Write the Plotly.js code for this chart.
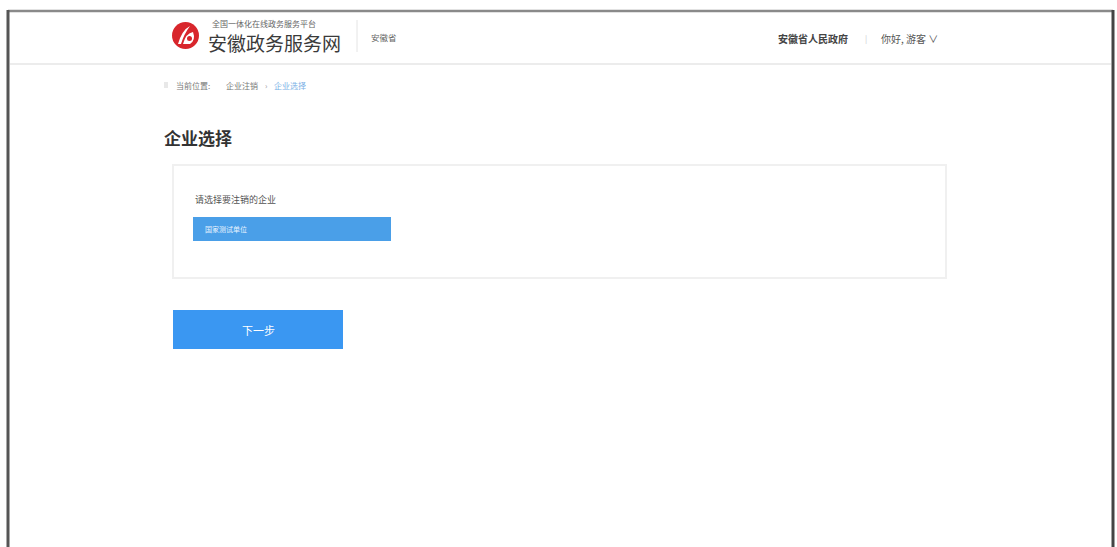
<!DOCTYPE html>
<html>
<head>
<meta charset="utf-8">
<script src="https://cdn.plot.ly/plotly-3.0.1.min.js"></script>
<style>html,body{margin:0;padding:0;background:#fff;}#chart{width:1117px;height:547px;}</style>
</head>
<body>
<div id="chart"></div>
<script>
// Page texts (the "data" of this screenshot)
const platformLabel = ["全国一体化在线政务服务平台"];
const siteTitle = ["安徽政务服务网"];
const regionLabel = ["安徽省"];
const headerRight = ["安徽省人民政府", "|", "你好, 游客 ∨"];
const breadcrumb = ["当前位置:", "企业注销", "›", "企业选择"];
const pageTitle = ["企业选择"];
const promptText = ["请选择要注销的企业"];
const companyOptions = ["国家测试单位"];
const buttonLabels = ["下一步"];

const FONT = '"Noto Sans CJK SC", "Noto Sans", sans-serif';
const shapes = [];
const ann = [];
function rect(x0,y0,x1,y1,fill,line,lw){shapes.push({type:'rect',xref:'x',yref:'y',x0,y0,x1,y1,fillcolor:fill,line:{color:line||fill,width:lw===undefined?0:lw},layer:'above'});}
function line(x0,y0,x1,y1,color,w){shapes.push({type:'line',xref:'x',yref:'y',x0,y0,x1,y1,line:{color,width:w},layer:'above'});}
function text(t,x,y,size,color,anchor,bold){ann.push({text:bold?'<b>'+t+'</b>':t,x,y,xref:'x',yref:'y',showarrow:false,xanchor:anchor||'left',yanchor:'middle',font:{family:FONT,size,color}});}

// outer frame
line(8,11,1113,11,'#8a8a8a',2.5);
line(8,10,8,547,'#555',3);
line(1113,10,1113,547,'#444',3);
// header divider
line(10,64,1111,64,'#ececec',2);

// logo
shapes.push({type:'circle',xref:'x',yref:'y',x0:172,y0:22,x1:199,y1:49,fillcolor:'#d8262c',line:{width:0},layer:'above'});
shapes.push({type:'path',xref:'x',yref:'y',path:'M 178 44 Q 182 30 190 26 Q 184 34 181 44 Z',fillcolor:'#ffffff',line:{width:0},layer:'above'});
shapes.push({type:'path',xref:'x',yref:'y',path:'M 183 44 Q 186 33 193 32 Q 196 40 190 44 Z',fillcolor:'#ffffff',line:{width:0},layer:'above'});
shapes.push({type:'circle',xref:'x',yref:'y',x0:187,y0:36,x1:192,y1:41,fillcolor:'#d8262c',line:{width:0},layer:'above'});

text(platformLabel[0],210,23,8,'#666');
text(siteTitle[0],206,42,19,'#3a3a3a');
line(357,20,357,52,'#e4e4e4',1);
text(regionLabel[0],369,37,8.5,'#666');

text(headerRight[0],776,38,10,'#444','left',true);
text(headerRight[1],866,38,8,'#ccc','center');
text(headerRight[2],879,38,10,'#555');

// breadcrumb
rect(164,82,168,88,'#e8e8e8');
text(breadcrumb[0],174,85,8,'#777');
text(breadcrumb[1],224,85,8,'#777');
text(breadcrumb[2],266,85,8,'#999','center');
text(breadcrumb[3],272,85,8,'#7ab0e6');

// page title
text(pageTitle[0],162,137,17,'#333','left',true);

// card
rect(173,165,946,278,'#ffffff','#f0f0f0',2);
text(promptText[0],193,199,9,'#555');
rect(193,217,391,241,'#4a9fe8');
text(companyOptions[0],203,229,7,'#e8f3ff');

// next button
rect(173,310,343,349,'#3a97f2');
text(buttonLabels[0],258,330,11,'#ffffff','center');

const layout = {
  width:1117,height:547,
  margin:{l:0,r:0,t:0,b:0},
  paper_bgcolor:'#ffffff',plot_bgcolor:'#ffffff',
  xaxis:{range:[0,1117],visible:false,fixedrange:true},
  yaxis:{range:[547,0],visible:false,fixedrange:true},
  shapes,annotations:ann,showlegend:false
};
Plotly.newPlot('chart',[{x:[0],y:[0],mode:'markers',marker:{opacity:0},hoverinfo:'skip'}],layout,{staticPlot:true,displayModeBar:false});
</script>
</body>
</html>
